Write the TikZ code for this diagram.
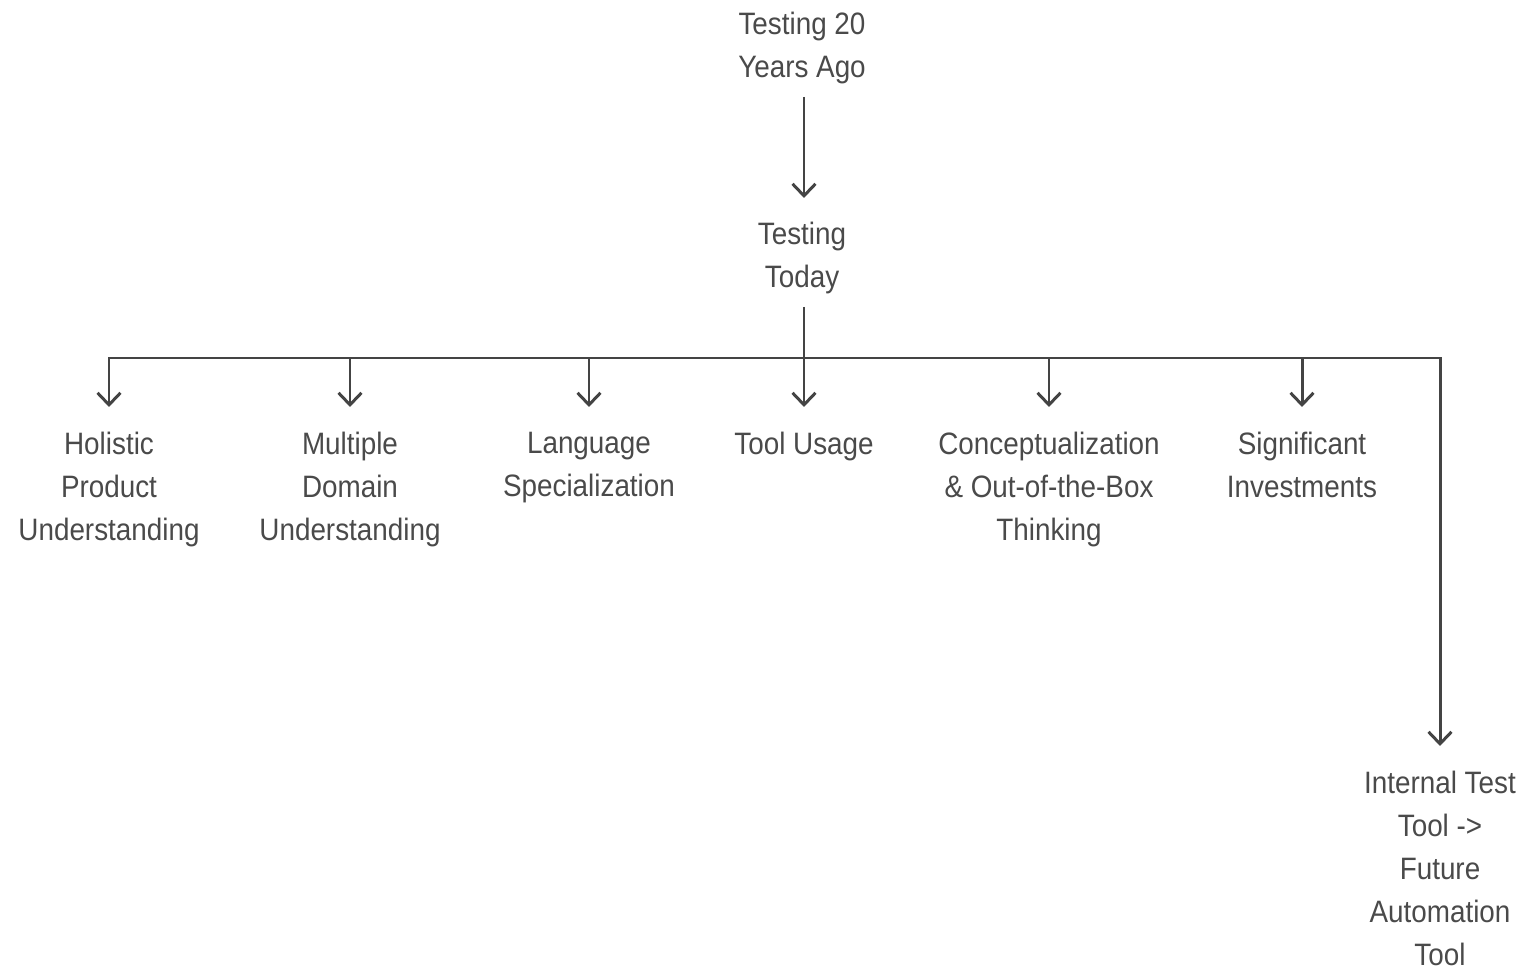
\documentclass[tikz,border=0pt]{standalone}
\usepackage{fontspec}
\setmainfont[FakeStretch=0.9]{Liberation Sans}
\usetikzlibrary{arrows.meta}
\definecolor{txt}{HTML}{4A4A4A}
\definecolor{ln}{HTML}{444444}
\begin{document}
\begin{tikzpicture}[x=0.01cm,y=-0.01cm,
  lbl/.style={anchor=north,inner sep=0pt,outer sep=0pt,align=center,text=txt,
    font=\fontsize{8.8pt}{12.23pt}\selectfont},
  conn/.style={draw=ln,line width=0.85pt,line join=miter},
  arr/.style={conn,-{Straight Barb[length=0.12cm,width=0.23cm,line width=0.85pt]},shorten >=0.26cm}]
\useasboundingbox (0,0) rectangle (1526,970);
\node[lbl] (top) at (802,12) {Testing 20\\Years Ago};
\node[lbl] (today) at (802,222) {Testing\\Today};
\node[lbl] (holistic) at (109,432) {Holistic\\Product\\Understanding};
\node[lbl] (multiple) at (350,432) {Multiple\\Domain\\Understanding};
\node[lbl] (language) at (589,432) {Language\\Specialization};
\node[lbl] (tool) at (804,432) {Tool Usage};
\node[lbl] (concept) at (1049,432) {Conceptualization\\\& Out-of-the-Box\\Thinking};
\node[lbl] (signif) at (1302,432) {Significant\\Investments};
\node[lbl] (internal) at (1440,771) {Internal Test\\Tool ->\\Future\\Automation\\Tool};
\coordinate (bus) at (804,358);
\draw[arr,shorten <=0.13cm,shorten >=0.24cm] (top.south -| bus) -- (today.north -| bus);
\draw[conn,shorten <=0.13cm] (today.south -| bus) -- (bus);
\draw[arr,{Straight Barb[length=0.12cm,width=0.23cm,line width=0.85pt]}-{Straight Barb[length=0.12cm,width=0.23cm,line width=0.85pt]},shorten <=0.25cm,shorten >=0.25cm]
  (holistic.north) -- (holistic.north |- bus) -- (internal.north |- bus) -- (internal.north);
\draw[arr,shorten >=0.25cm] (multiple.north |- bus) -- (multiple.north);
\draw[arr,shorten >=0.25cm] (language.north |- bus) -- (language.north);
\draw[arr,shorten >=0.25cm] (tool.north |- bus) -- (tool.north);
\draw[arr,shorten >=0.25cm] (concept.north |- bus) -- (concept.north);
\draw[arr,shorten >=0.25cm] (signif.north |- bus) -- (signif.north);
\end{tikzpicture}
\end{document}
